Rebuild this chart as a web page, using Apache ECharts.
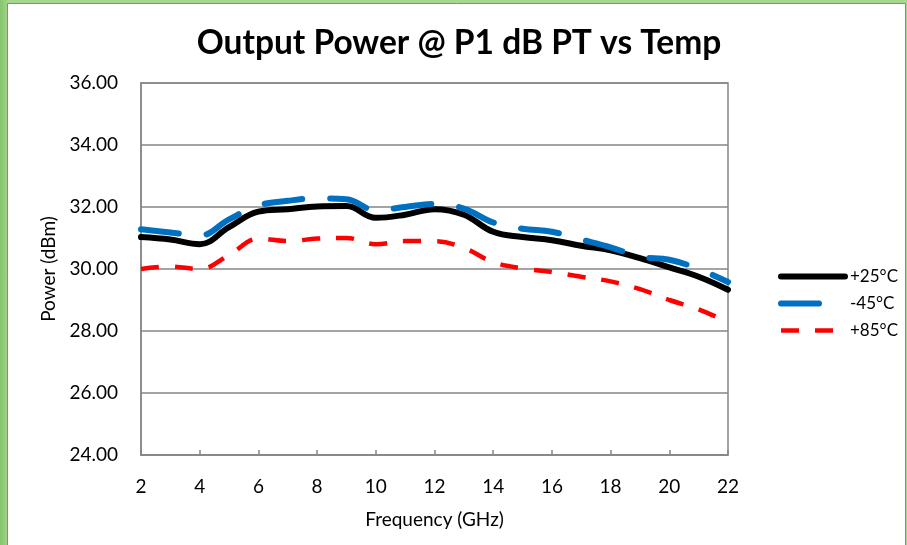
<!DOCTYPE html>
<html>
<head>
<meta charset="utf-8">
<script src="https://cdn.jsdelivr.net/npm/echarts@6/dist/echarts.min.js"></script>
<style>
html,body{margin:0;padding:0;background:#fff;}
#c{width:907px;height:545px;}
</style>
</head>
<body>
<div id="c"></div>
<script>
const freqs = [2,3,4,5,6,7,8,9,10,11,12,13,14,15,16,17,18,19,20,21,22];
const p25 = [31.03,30.95,30.80,31.35,31.85,31.93,32.02,32.03,31.65,31.75,31.93,31.75,31.20,31.03,30.93,30.75,30.60,30.35,30.05,29.75,29.33];
const m45 = [31.28,31.18,31.08,31.60,32.05,32.20,32.28,32.25,31.90,32.00,32.10,31.95,31.50,31.30,31.20,30.95,30.70,30.40,30.30,30.00,29.58];
const p85 = [30.00,30.08,30.00,30.45,30.98,30.90,30.98,31.00,30.80,30.90,30.90,30.68,30.22,30.02,29.90,29.75,29.60,29.35,29.00,28.70,28.28];
const seriesNames = ['+25°C','-45°C','+85°C'];
const xTicks = [2,4,6,8,10,12,14,16,18,20,22];
const yTicks = [24,26,28,30,32,34,36];

const pairs = arr => freqs.map((f,i)=>[f,arr[i]]);
const FONT = 'Lato, "Open Sans", sans-serif';

const chart = echarts.init(document.getElementById('c'), null, {renderer:'canvas'});
chart.setOption({
  animation:false,
  backgroundColor:'#ffffff',
  graphic:[
    {type:'rect', z:-10, shape:{x:0,y:0,width:907,height:545},
     style:{fill:new echarts.graphic.LinearGradient(0,0,1,0,[{offset:0,color:'#86c46e'},{offset:0.01,color:'#a6d690'},{offset:1,color:'#a6d690'}])}},
    {type:'rect', z:-9, shape:{x:7.5,y:3.5,width:898,height:545},
     style:{fill:'#ffffff', stroke:'#8a8a8a', lineWidth:1}}
  ],
  title:{
    text:'Output Power @ P1 dB PT vs Temp',
    left:454, top:21, textAlign:'center',
    textStyle:{fontFamily:FONT, fontWeight:'bold', fontSize:33.5, color:'#000'}
  },
  legend:{
    orient:'vertical', left:778, top:268, padding:0,
    itemWidth:64, itemHeight:16, itemGap:10,
    itemStyle:{opacity:0},
    lineStyle:{width:'inherit'},
    textStyle:{fontFamily:FONT, fontSize:17, color:'#000'},
    data:seriesNames
  },
  grid:{left:141, right:179, top:83, bottom:90, show:true, borderColor:'#868686', borderWidth:1.5},
  xAxis:{
    type:'value', min:2, max:22, interval:2,
    name:'Frequency (GHz)', nameLocation:'middle', nameGap:55,
    nameTextStyle:{fontFamily:FONT, fontSize:19, color:'#000'},
    axisLine:{lineStyle:{color:'#868686', width:1.5}},
    axisTick:{show:true, inside:true, length:5, lineStyle:{color:'#868686', width:1.5}},
    axisLabel:{fontFamily:FONT, fontSize:19, color:'#000', margin:22},
    splitLine:{show:false}
  },
  yAxis:{
    type:'value', min:24, max:36, interval:2,
    name:'Power (dBm)', nameLocation:'middle', nameGap:82,
    nameTextStyle:{fontFamily:FONT, fontSize:19, color:'#000'},
    axisLine:{show:true, lineStyle:{color:'#868686', width:1.5}},
    axisTick:{show:false},
    axisLabel:{fontFamily:FONT, fontSize:19, color:'#000', margin:23, formatter:v=>v.toFixed(2)},
    splitLine:{show:true, lineStyle:{color:'#868686', width:1.5}}
  },
  series:[
    {name:seriesNames[0], type:'line', data:pairs(p25), smooth:0.4, symbol:'none', z:3,
     lineStyle:{color:'#000000', width:6, cap:'round', join:'round'}, itemStyle:{color:'#000000'}},
    {name:seriesNames[1], type:'line', data:pairs(m45), smooth:0.4, symbol:'none', z:4,
     lineStyle:{color:'#0070c0', width:6, type:[38,28], cap:'round', join:'round'}, itemStyle:{color:'#0070c0'}},
    {name:seriesNames[2], type:'line', data:pairs(p85), smooth:0.4, symbol:'none', z:2,
     lineStyle:{color:'#ff0000', width:4.5, type:[18,16], cap:'butt'}, itemStyle:{color:'#ff0000'}}
  ]
});
</script>
</body>
</html>
